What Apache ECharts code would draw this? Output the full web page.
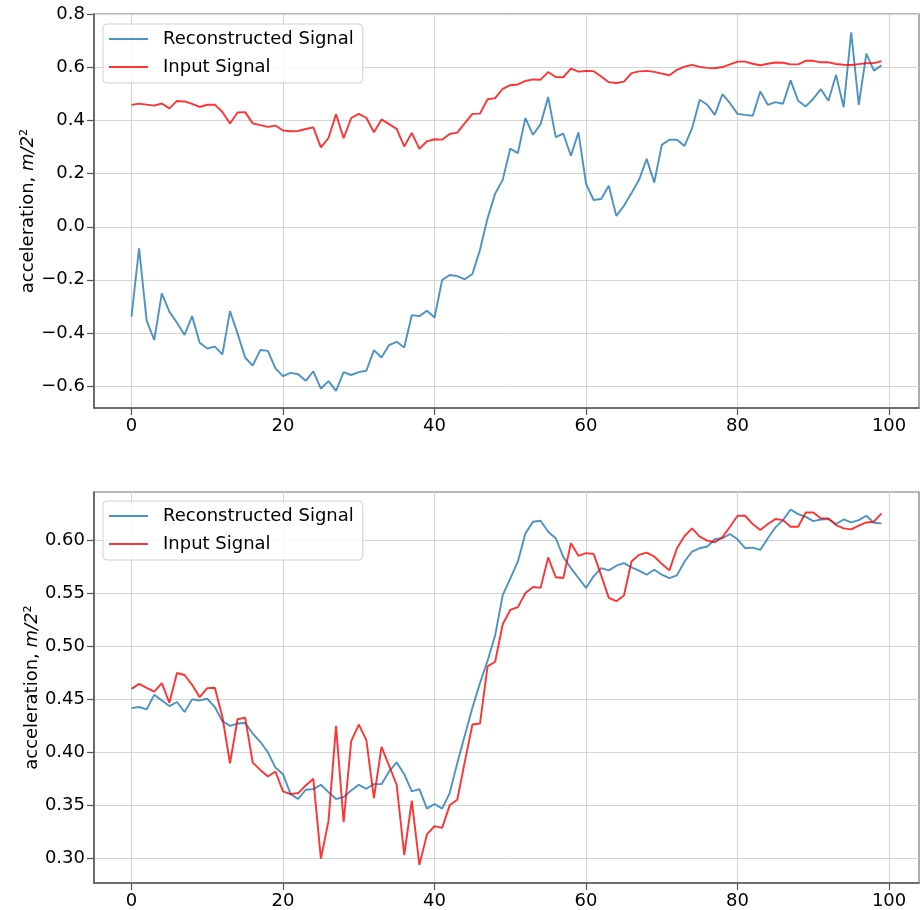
<!DOCTYPE html>
<html>
<head>
<meta charset="utf-8">
<script src="https://cdn.jsdelivr.net/npm/echarts@6/dist/echarts.min.js"></script>
<style>html,body{margin:0;padding:0;background:#fff}#c{width:922px;height:910px}</style>
</head>
<body>
<div id="c"></div>
<script>
// ---- data ----
const seriesNames = ['Reconstructed Signal', 'Input Signal'];
const xTicks = [0, 20, 40, 60, 80, 100];
const yTicksTop = [-0.6, -0.4, -0.2, 0.0, 0.2, 0.4, 0.6, 0.8];
const yTicksBottom = [0.30, 0.35, 0.40, 0.45, 0.50, 0.55, 0.60];

// Reconstructed signal (top panel, raw)
const reconTop = [
 -0.339,-0.081,-0.354,-0.427,-0.251,-0.320,-0.362,-0.408,-0.337,-0.437,
 -0.459,-0.452,-0.481,-0.318,-0.402,-0.493,-0.524,-0.465,-0.468,-0.534,
 -0.563,-0.551,-0.556,-0.581,-0.545,-0.610,-0.582,-0.619,-0.548,-0.559,
 -0.548,-0.543,-0.465,-0.493,-0.446,-0.434,-0.455,-0.333,-0.337,-0.317,
 -0.342,-0.201,-0.182,-0.186,-0.198,-0.178,-0.087,0.032,0.125,0.177,
 0.295,0.278,0.410,0.347,0.387,0.489,0.338,0.351,0.268,0.356,
 0.162,0.101,0.105,0.155,0.041,0.079,0.127,0.177,0.256,0.167,
 0.309,0.328,0.328,0.305,0.372,0.479,0.460,0.422,0.500,0.466,
 0.426,0.422,0.419,0.510,0.460,0.470,0.464,0.552,0.475,0.454,
 0.483,0.519,0.475,0.573,0.451,0.733,0.460,0.653,0.589,0.609
];

// Reconstructed signal (bottom panel)
const reconBottom = [
 0.4415,0.4425,0.4403,0.4540,0.4487,0.4434,0.4472,0.4378,0.4497,0.4487,
 0.4503,0.4425,0.4291,0.4247,0.4269,0.4275,0.4175,0.4097,0.3998,0.3854,
 0.3792,0.3604,0.3558,0.3645,0.3651,0.3692,0.3623,0.3558,0.3576,0.3639,
 0.3692,0.3654,0.3698,0.3698,0.3817,0.3904,0.3792,0.3630,0.3651,0.3467,
 0.3511,0.3467,0.3614,0.3895,0.4160,0.4419,0.4652,0.4861,0.5100,0.5480,
 0.5635,0.5797,0.6062,0.6172,0.6181,0.6078,0.6016,0.5838,0.5735,0.5641,
 0.5548,0.5657,0.5735,0.5713,0.5757,0.5782,0.5741,0.5710,0.5672,0.5719,
 0.5672,0.5641,0.5666,0.5797,0.5891,0.5922,0.5938,0.6006,0.6016,0.6056,
 0.6006,0.5922,0.5928,0.5906,0.6016,0.6119,0.6187,0.6287,0.6243,0.6218,
 0.6178,0.6193,0.6197,0.6150,0.6193,0.6165,0.6187,0.6228,0.6162,0.6156
];

// Input signal (same in both panels)
const inputSignal = [
 0.4596,0.4643,0.4606,0.4571,0.4650,0.4465,0.4746,0.4727,0.4634,0.4518,
 0.4603,0.4606,0.4331,0.3895,0.4310,0.4325,0.3901,0.3832,0.3770,0.3817,
 0.3630,0.3604,0.3614,0.3686,0.3748,0.2996,0.3349,0.4247,0.3339,0.4103,
 0.4260,0.4113,0.3567,0.4050,0.3873,0.3692,0.3030,0.3542,0.2937,0.3224,
 0.3302,0.3286,0.3498,0.3551,0.3910,0.4260,0.4269,0.4808,0.4852,0.5205,
 0.5340,0.5367,0.5500,0.5557,0.5548,0.5835,0.5648,0.5641,0.5969,0.5850,
 0.5875,0.5869,0.5666,0.5454,0.5423,0.5476,0.5797,0.5860,0.5881,0.5844,
 0.5775,0.5713,0.5922,0.6037,0.6109,0.6031,0.5994,0.5978,0.6025,0.6125,
 0.6228,0.6228,0.6150,0.6094,0.6150,0.6197,0.6187,0.6125,0.6125,0.6259,
 0.6259,0.6203,0.6203,0.6140,0.6109,0.6100,0.6134,0.6165,0.6172,0.6250
];

// ---- chart ----
const FONT = 'DejaVu Sans';
const BLUE = 'rgba(31,119,180,0.8)';
const RED = 'rgba(255,0,0,0.8)';
const toPairs = arr => arr.map((v, i) => [i, v]);
const minus = s => s.replace('-', '\u2212');

function xAxisCfg(gridIndex) {
  return {
    type: 'value', gridIndex, min: -4.95, max: 103.95,
    axisLine: { show: true, onZero: false, lineStyle: { color: '#555', width: 1.5 } },
    axisTick: { show: true, length: 7, lineStyle: { color: '#555', width: 1.2 }, customValues: xTicks },
    axisLabel: { customValues: xTicks, fontFamily: FONT, fontSize: 18, color: '#000', margin: 9,
                 formatter: v => String(v) },
    splitLine: { show: true, lineStyle: { color: '#d4d4d4', width: 1 } }
  };
}
function yAxisCfg(gridIndex, min, max, ticks, digits, gap) {
  return {
    type: 'value', gridIndex, min, max,
    name: '{a|acceleration, }{b|m/2}{a|²}',
    nameLocation: 'middle', nameRotate: 90, nameGap: gap, nameMoveOverlap: false,
    nameTextStyle: { rich: {
      a: { fontFamily: FONT, fontSize: 18, color: '#000' },
      b: { fontFamily: FONT, fontSize: 18, color: '#000', fontStyle: 'italic' }
    } },
    axisLine: { show: true, onZero: false, lineStyle: { color: '#555', width: 1.5 } },
    axisTick: { show: true, length: 7, lineStyle: { color: '#555', width: 1.2 }, customValues: ticks },
    axisLabel: { customValues: ticks, fontFamily: FONT, fontSize: 18, color: '#000', margin: 9,
                 formatter: v => minus(Number(v).toFixed(digits)) },
    splitLine: { show: true, lineStyle: { color: '#d4d4d4', width: 1 } }
  };
}
function legendCfg(top) {
  return {
    data: seriesNames, orient: 'vertical', left: 103, top,
    padding: [6, 9, 7, 6], itemGap: 10, itemWidth: 39, itemHeight: 2, icon: 'rect',
    backgroundColor: 'rgba(255,255,255,0.8)', borderColor: '#d0d0d0', borderWidth: 1, borderRadius: 4,
    textStyle: { fontFamily: FONT, fontSize: 18, color: '#000', lineHeight: 18, padding: [0, 0, 0, 10] },
    selectedMode: false
  };
}
function lineSeries(name, data, xi, yi, color) {
  return {
    name, type: 'line', xAxisIndex: xi, yAxisIndex: yi, data: toPairs(data),
    symbol: 'none', showSymbol: false, animation: false,
    lineStyle: { color, width: 1.9 }, itemStyle: { color }
  };
}

const chart = echarts.init(document.getElementById('c'), null, { renderer: 'canvas' });
chart.setOption({
  animation: false,
  backgroundColor: '#fff',
  grid: [
    { left: 94, top: 14, width: 825, height: 394, show: true, borderColor: '#777', borderWidth: 1.2, containLabel: false },
    { left: 94, top: 492, width: 825, height: 394, show: true, borderColor: '#777', borderWidth: 1.2, containLabel: false }
  ],
  xAxis: [xAxisCfg(0), xAxisCfg(1)],
  yAxis: [
    yAxisCfg(0, -0.6835, 0.8025, yTicksTop, 1, 57),
    yAxisCfg(1, 0.2766, 0.6452, yTicksBottom, 2, 53)
  ],
  legend: [legendCfg(24), legendCfg(501)],
  series: [
    lineSeries(seriesNames[0], reconTop, 0, 0, BLUE),
    lineSeries(seriesNames[1], inputSignal, 0, 0, RED),
    lineSeries(seriesNames[0], reconBottom, 1, 1, BLUE),
    lineSeries(seriesNames[1], inputSignal, 1, 1, RED)
  ]
});
</script>
</body>
</html>
